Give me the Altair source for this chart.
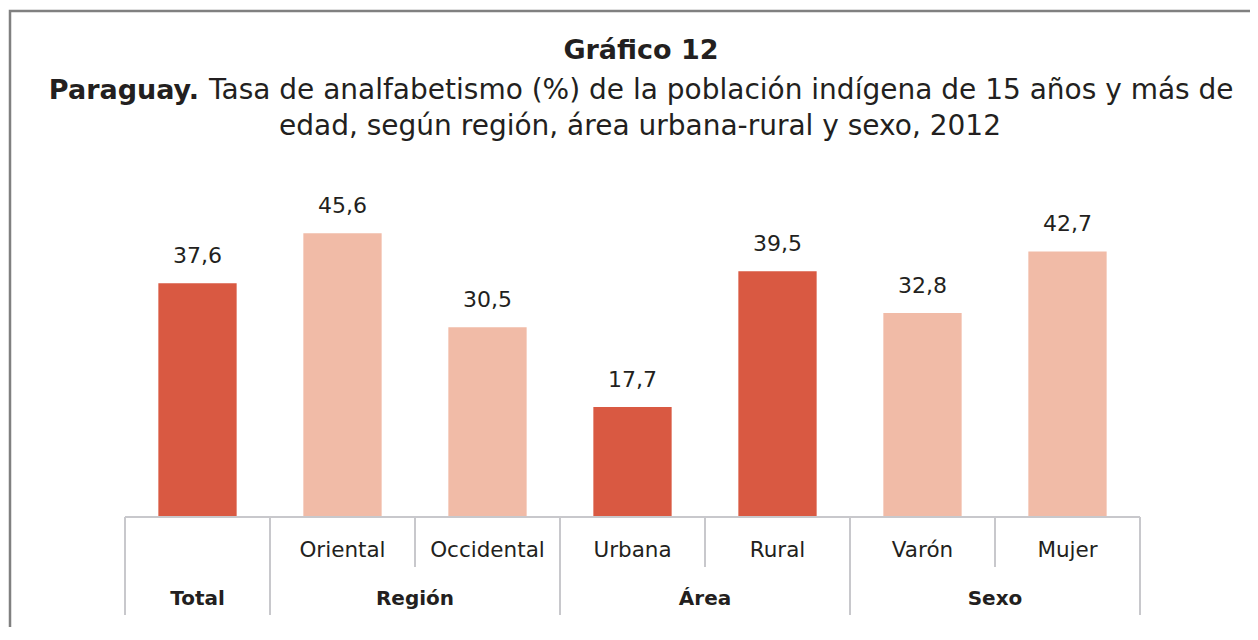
import altair as alt
import pandas as pd

# ---- data ----
cats = ["Total", "Oriental", "Occidental", "Urbana", "Rural", "Varón", "Mujer"]
sub_labels = ["", "Oriental", "Occidental", "Urbana", "Rural", "Varón", "Mujer"]
values = [37.6, 45.6, 30.5, 17.7, 39.5, 32.8, 42.7]
value_labels = ["37,6", "45,6", "30,5", "17,7", "39,5", "32,8", "42,7"]
tones = ["dark", "light", "light", "dark", "dark", "light", "light"]
groups = ["Total", "Región", "Área", "Sexo"]
group_first = ["Total", "Oriental", "Urbana", "Varón"]
left_edge = ["full", "full", "short", "full", "short", "full", "short"]

title_main = "Gráfico 12"
title_bold = "Paraguay."
title_rest = "Tasa de analfabetismo (%) de la población indígena de 15 años y más de"
title_line2 = "edad, según región, área urbana-rural y sexo, 2012"

# ---- layout constants ----
W, H = 1015, 311
FONT = "DejaVu Sans"
TXT = "#231f20"
GRID = "#c8c8cc"

df = pd.DataFrame({"cat": cats, "sub": sub_labels, "value": values,
                   "label": value_labels, "tone": tones, "edge": left_edge})
gdf = pd.DataFrame({"group": groups, "first": group_first})

xs = alt.Scale(domain=cats, paddingInner=0, paddingOuter=0)
ys = alt.Scale(domain=[0, 50])

base = alt.Chart(df)

bars = base.mark_bar(width=alt.RelativeBandSize(0.54)).encode(
    x=alt.X("cat:N", scale=xs, axis=None, sort=cats),
    y=alt.Y("value:Q", scale=ys, axis=None),
    color=alt.Color("tone:N", scale=alt.Scale(domain=["dark", "light"],
                                              range=["#d95942", "#f1bba7"]), legend=None),
)

vlabels = base.mark_text(font=FONT, fontSize=22, color=TXT, dy=-20,
                         baseline="alphabetic").encode(
    x=alt.X("cat:N", scale=xs, sort=cats),
    y=alt.Y("value:Q", scale=ys),
    text="label:N",
)

baseline = alt.Chart(pd.DataFrame({"v": [0]})).mark_rule(
    color=GRID, strokeWidth=2).encode(
    y=alt.Y("v:Q", scale=ys), x=alt.value(0), x2=alt.value(W))

sep_full = base.transform_filter(alt.datum.edge == "full").mark_rule(
    color=GRID, strokeWidth=2).encode(
    x=alt.X("cat:N", scale=xs, sort=cats, bandPosition=0),
    y=alt.value(H), y2=alt.value(H + 98))
sep_short = base.transform_filter(alt.datum.edge == "short").mark_rule(
    color=GRID, strokeWidth=2).encode(
    x=alt.X("cat:N", scale=xs, sort=cats, bandPosition=0),
    y=alt.value(H), y2=alt.value(H + 50))
sep_end = alt.Chart(pd.DataFrame({"cat": [cats[-1]]})).mark_rule(
    color=GRID, strokeWidth=2).encode(
    x=alt.X("cat:N", scale=xs, sort=cats, bandPosition=1),
    y=alt.value(H), y2=alt.value(H + 98))

sub_text = base.mark_text(font=FONT, fontSize=21.5, color=TXT, baseline="middle").encode(
    x=alt.X("cat:N", scale=xs, sort=cats),
    y=alt.value(H + 34), text="sub:N")

g_single = alt.Chart(gdf.iloc[:1]).mark_text(
    font=FONT, fontSize=20, fontWeight="bold", color=TXT, baseline="middle").encode(
    x=alt.X("first:N", scale=xs, sort=cats, bandPosition=0.5),
    y=alt.value(H + 82), text="group:N")
g_multi = alt.Chart(gdf.iloc[1:]).mark_text(
    font=FONT, fontSize=20, fontWeight="bold", color=TXT, baseline="middle").encode(
    x=alt.X("first:N", scale=xs, sort=cats, bandPosition=1),
    y=alt.value(H + 82), text="group:N")

one = pd.DataFrame({"t": [0]})
t_main = alt.Chart(one).mark_text(font=FONT, fontSize=27, fontWeight="bold",
                                  color=TXT, baseline="middle", align="center").encode(
    x=alt.value(516), y=alt.value(-155), text=alt.value(title_main))
t_bold = alt.Chart(one).mark_text(font=FONT, fontSize=27, fontWeight="bold",
                                  color=TXT, baseline="middle", align="right").encode(
    x=alt.value(74), y=alt.value(-115), text=alt.value(title_bold))
t_rest = alt.Chart(one).mark_text(font=FONT, fontSize=28,
                                  color=TXT, baseline="middle", align="left").encode(
    x=alt.value(84), y=alt.value(-115), text=alt.value(title_rest))
t_l2 = alt.Chart(one).mark_text(font=FONT, fontSize=28,
                                color=TXT, baseline="middle", align="center").encode(
    x=alt.value(515), y=alt.value(-79), text=alt.value(title_line2))

frame = alt.Chart(one).mark_rect(filled=False, stroke="#808080", strokeWidth=2.5).encode(
    x=alt.value(-115), x2=alt.value(1300), y=alt.value(-195), y2=alt.value(700))

chart = alt.layer(
    frame, bars, vlabels, baseline, sep_full, sep_short, sep_end,
    sub_text, g_single, g_multi, t_main, t_bold, t_rest, t_l2
).properties(
    width=W, height=H,
    autosize=alt.AutoSizeParams(type="none"),
    padding={"left": 117, "top": 198, "right": 110, "bottom": 110},
).configure_view(stroke=None)

chart.save("out.html", embed_options={"renderer": "svg", "actions": False})
